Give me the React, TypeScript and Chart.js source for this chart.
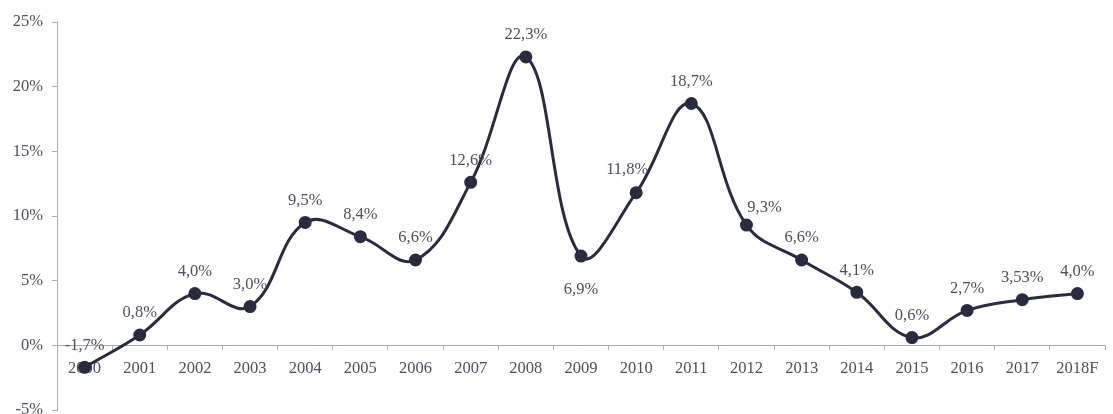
import React, { useEffect, useRef } from "react";
import { Chart, registerables } from "chart.js";

Chart.register(...registerables);

const categories = [
  "2000", "2001", "2002", "2003", "2004", "2005", "2006", "2007", "2008", "2009",
  "2010", "2011", "2012", "2013", "2014", "2015", "2016", "2017", "2018F",
];
const growth = [
  -1.7, 0.8, 4.0, 3.0, 9.5, 8.4, 6.6, 12.6, 22.3, 6.9,
  11.8, 18.7, 9.3, 6.6, 4.1, 0.6, 2.7, 3.53, 4.0,
];
// label placement per point: "above" (default), "below", "left", "right"
const labelPlacement = [
  "above", "above", "above", "above", "above", "above", "above", "above", "above", "below",
  "left", "above", "right", "above", "above", "above", "above", "above", "above",
];
const yTicks = [-5, 0, 5, 10, 15, 20, 25];

const FONT = "'Liberation Serif', 'DejaVu Serif', serif";
const LINE = "#2b2b40";
const TEXT = "#4e4e5e";

function fmt(v: number): string {
  const tenth = Math.abs(v * 10 - Math.round(v * 10)) < 1e-9;
  return (tenth ? v.toFixed(1) : v.toFixed(2)).replace(".", ",") + "%";
}

const labelPlugin = {
  id: "pointLabels",
  afterDatasetsDraw(chart: any) {
    const meta = chart.getDatasetMeta(0);
    const ctx = chart.ctx;
    ctx.save();
    ctx.font = `16.5px ${FONT}`;
    ctx.fillStyle = TEXT;
    ctx.textAlign = "center";
    ctx.textBaseline = "middle";
    meta.data.forEach((pt: any, i: number) => {
      const v = growth[i];
      let dx = 0;
      let dy = -22;
      const p = labelPlacement[i];
      if (p === "below") dy = 34;
      if (p === "left") { dx = -9; dy = -23; }
      if (p === "right") { dx = 18; dy = -17; }
      ctx.fillText(fmt(v), pt.x + dx, pt.y + dy);
    });
    ctx.restore();
  },
};

export default function App() {
  const ref = useRef<HTMLCanvasElement | null>(null);
  useEffect(() => {
    document.body.style.margin = "0";
    if (!ref.current) return;
    const chart = new Chart(ref.current, {
      type: "line",
      data: {
        labels: categories,
        datasets: [
          {
            data: growth,
            borderColor: LINE,
            backgroundColor: LINE,
            borderWidth: 3,
            tension: 0.4,
            pointRadius: 5,
            pointBackgroundColor: LINE,
            pointBorderColor: LINE,
          },
        ],
      },
      options: {
        animation: false,
        responsive: true,
        maintainAspectRatio: false,
        layout: { padding: { top: 22, right: 0, bottom: 3, left: 0 } },
        plugins: { legend: { display: false }, tooltip: { enabled: false } },
        scales: {
          x: {
            position: { y: 0 } as any,
            offset: true,
            grid: {
              offset: true,
              drawOnChartArea: false,
              drawTicks: true,
              tickLength: 4,
              color: "#b0b1bf",
            },
            border: { display: true, color: "#a9aab8", dash: [1, 1], width: 1 },
            ticks: {
              color: TEXT,
              font: { family: FONT, size: 16.5 },
              padding: 9,
              autoSkip: false,
              maxRotation: 0,
            },
          },
          y: {
            min: -5,
            max: 25,
            afterBuildTicks: (scale: any) => {
              scale.ticks = yTicks.map((v) => ({ value: v }));
            },
            afterFit: (scale: any) => {
              scale.width = 57;
              scale.paddingTop = 0;
              scale.paddingBottom = 0;
            },
            grid: {
              drawOnChartArea: false,
              drawTicks: true,
              tickLength: 5,
              color: "#b0b1bf",
            },
            border: { display: true, color: "#a9aab8", dash: [1, 1], width: 1 },
            ticks: {
              color: TEXT,
              font: { family: FONT, size: 16.5 },
              padding: 9,
              callback: (v: any) => `${v}%`,
            },
          },
        },
      },
      plugins: [labelPlugin],
    });
    return () => chart.destroy();
  }, []);
  return (
    <div style={{ width: "1113px", height: "414px", overflow: "hidden" }}>
      <div style={{ position: "relative", width: "1113px", height: "418px" }}>
        <canvas ref={ref} />
      </div>
    </div>
  );
}
